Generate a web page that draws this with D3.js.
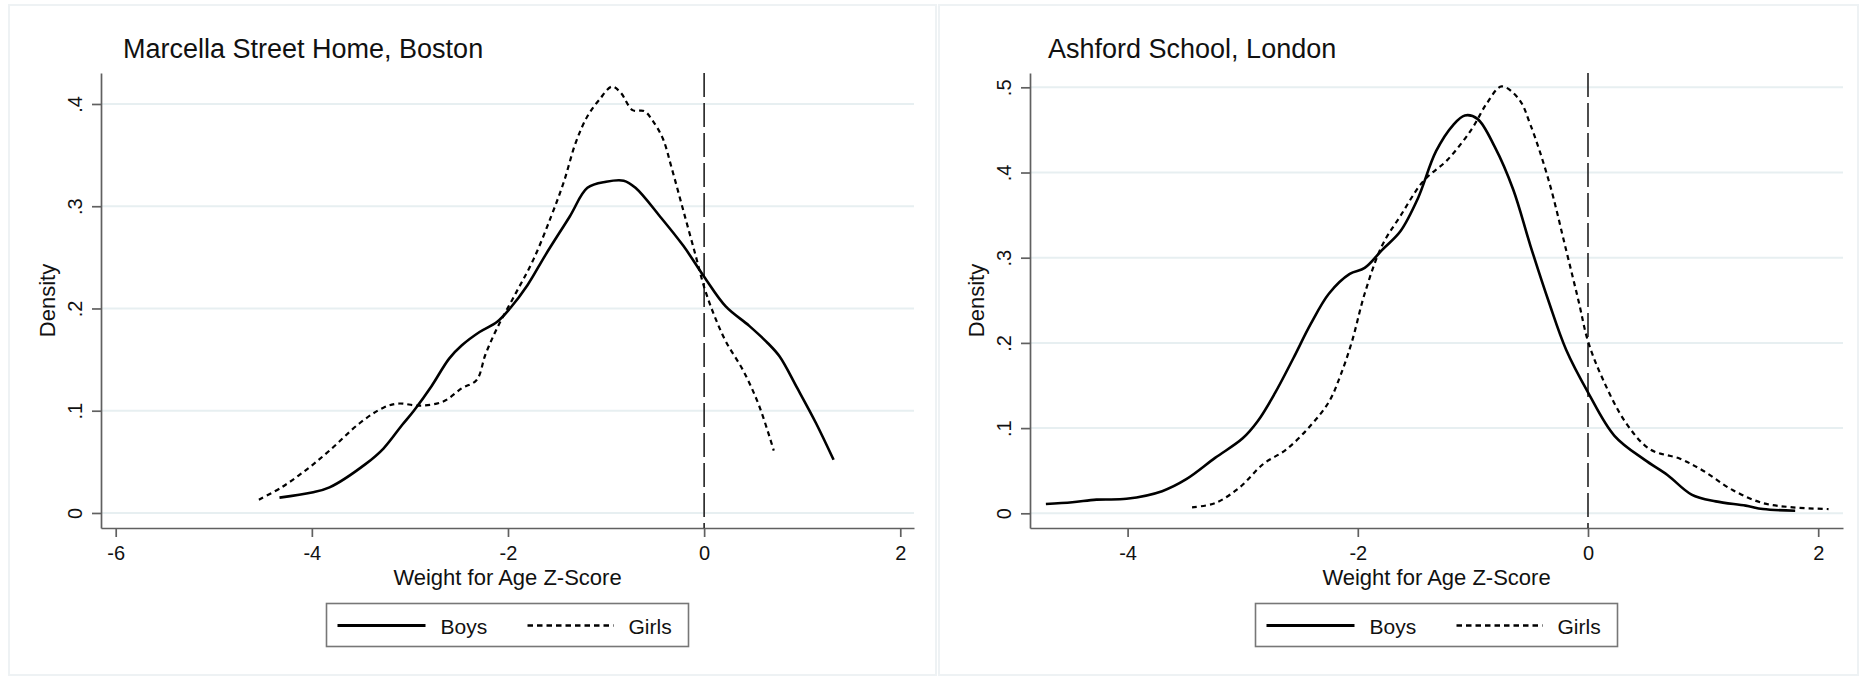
<!DOCTYPE html>
<html>
<head>
<meta charset="utf-8">
<script src="https://cdn.jsdelivr.net/npm/d3@7"></script>
<style>
  html, body { margin: 0; padding: 0; background: #fff; }
  text { font-family: "Liberation Sans", Arial, Helvetica, sans-serif; fill: #111; }
</style>
</head>
<body>
<div id="chart"></div>
<script>
// ---------- data (z-score, density) ----------
const marcellaBoys = [[-4.33,0.015],[-4.0,0.020],[-3.82,0.025],[-3.45,0.048],[-3.27,0.063],[-3.08,0.086],[-2.96,0.100],[-2.78,0.124],[-2.60,0.151],[-2.47,0.164],[-2.29,0.177],[-2.11,0.187],[-1.98,0.200],[-1.80,0.223],[-1.62,0.252],[-1.37,0.290],[-1.19,0.318],[-1.0,0.324],[-0.82,0.325],[-0.70,0.318],[-0.45,0.290],[-0.21,0.261],[0,0.231],[0.22,0.202],[0.46,0.183],[0.65,0.166],[0.77,0.153],[0.95,0.122],[1.14,0.088],[1.32,0.052]];
const marcellaGirls = [[-4.54,0.013],[-4.31,0.025],[-4.06,0.042],[-3.82,0.061],[-3.51,0.088],[-3.27,0.103],[-3.12,0.107],[-2.90,0.105],[-2.66,0.109],[-2.47,0.122],[-2.32,0.130],[-2.23,0.155],[-2.11,0.181],[-1.92,0.215],[-1.74,0.248],[-1.56,0.290],[-1.43,0.324],[-1.31,0.362],[-1.19,0.388],[-1.07,0.404],[-0.94,0.417],[-0.85,0.411],[-0.73,0.394],[-0.61,0.393],[-0.52,0.383],[-0.42,0.366],[-0.33,0.337],[-0.21,0.295],[-0.09,0.253],[0,0.221],[0.10,0.194],[0.22,0.168],[0.40,0.139],[0.56,0.105],[0.71,0.061]];
const ashfordBoys = [[-4.71,0.011],[-4.48,0.013],[-4.27,0.016],[-4.01,0.017],[-3.70,0.026],[-3.49,0.040],[-3.24,0.065],[-3.00,0.088],[-2.87,0.108],[-2.72,0.141],[-2.56,0.182],[-2.41,0.222],[-2.25,0.258],[-2.07,0.281],[-1.94,0.288],[-1.79,0.309],[-1.63,0.331],[-1.48,0.369],[-1.32,0.425],[-1.17,0.456],[-1.07,0.467],[-0.96,0.463],[-0.81,0.430],[-0.65,0.380],[-0.50,0.314],[-0.34,0.248],[-0.19,0.192],[0,0.142],[0.23,0.091],[0.49,0.063],[0.69,0.045],[0.90,0.022],[1.11,0.014],[1.37,0.009],[1.52,0.005],[1.80,0.003]];
const ashfordGirls = [[-3.44,0.007],[-3.24,0.012],[-3.03,0.030],[-2.82,0.058],[-2.62,0.075],[-2.41,0.103],[-2.25,0.131],[-2.15,0.162],[-2.05,0.202],[-1.94,0.258],[-1.79,0.314],[-1.63,0.349],[-1.43,0.390],[-1.22,0.415],[-1.01,0.451],[-0.88,0.481],[-0.75,0.501],[-0.60,0.486],[-0.50,0.456],[-0.34,0.390],[-0.19,0.309],[-0.08,0.248],[0,0.202],[0.13,0.157],[0.33,0.106],[0.54,0.075],[0.80,0.064],[1.0,0.050],[1.26,0.027],[1.52,0.012],[1.78,0.007],[2.09,0.005]];

const panelTitles = ['Marcella Street Home, Boston', 'Ashford School, London'];
const leftXTicks = [-6, -4, -2, 0, 2];
const rightXTicks = [-4, -2, 0, 2];
const leftYTicks = [0, 0.1, 0.2, 0.3, 0.4];
const rightYTicks = [0, 0.1, 0.2, 0.3, 0.4, 0.5];
const seriesNames = ['Boys', 'Girls'];
const xTitle = 'Weight for Age Z-Score';
const yTitle = 'Density';

const W = 1863, H = 677;
const svg = d3.select('#chart').append('svg')
  .attr('width', W).attr('height', H);

// stata style tick labels: ".1" instead of "0.1"
const yFmt = d => d === 0 ? '0' : String(+d.toFixed(2)).replace(/^0/, '');

const drawPanel = (cfg) => {
  const g = svg.append('g');
  const p = cfg.plot;

  // panel frame (very faint)
  g.append('rect')
    .attr('x', cfg.frame[0]).attr('y', cfg.frame[1])
    .attr('width', cfg.frame[2] - cfg.frame[0]).attr('height', cfg.frame[3] - cfg.frame[1])
    .attr('fill', '#fff').attr('stroke', '#eef2f4').attr('stroke-width', 2);

  const x = d3.scaleLinear().domain(cfg.xDomain).range([p.left, p.right]);
  const y = d3.scaleLinear().domain(cfg.yDomain).range([p.bottom, p.top]);

  // grid lines
  g.append('g').selectAll('line')
    .data(cfg.yTicks)
    .join('line')
    .attr('x1', p.left).attr('x2', p.right)
    .attr('y1', d => y(d)).attr('y2', d => y(d))
    .attr('stroke', '#e7eff1').attr('stroke-width', 2);

  // y axis
  const yAxis = g.append('g')
    .attr('transform', `translate(${p.left},0)`)
    .call(d3.axisLeft(y).tickValues(cfg.yTicks).tickFormat(yFmt).tickSize(9).tickSizeOuter(0));
  yAxis.selectAll('text')
    .attr('x', 0).attr('y', -19).attr('dy', 0)
    .attr('transform', 'rotate(-90)')
    .attr('text-anchor', 'middle')
    .attr('font-size', 20);

  // x axis
  const xAxis = g.append('g')
    .attr('transform', `translate(0,${p.bottom})`)
    .call(d3.axisBottom(x).tickValues(cfg.xTicks).tickFormat(d => String(d)).tickSize(9).tickPadding(9).tickSizeOuter(0));
  xAxis.selectAll('text').attr('font-size', 20);

  [yAxis, xAxis].forEach(a => {
    a.selectAll('path, line').attr('stroke', '#606060').attr('stroke-width', 1.7);
    a.selectAll('text').style('fill', '#111').attr('font-family', null);
  });

  // titles
  g.append('text')
    .attr('x', p.left + cfg.titleDx).attr('y', 58)
    .attr('font-size', 27)
    .text(cfg.title);
  g.append('text')
    .attr('x', (p.left + p.right) / 2).attr('y', 585)
    .attr('text-anchor', 'middle')
    .attr('font-size', 22)
    .text(xTitle);
  g.append('text')
    .attr('transform', `translate(${p.left - 46},${(p.top + p.bottom) / 2}) rotate(-90)`)
    .attr('text-anchor', 'middle')
    .attr('font-size', 22)
    .text(yTitle);

  // reference line at z = 0
  g.append('line')
    .attr('x1', x(0)).attr('x2', x(0))
    .attr('y1', p.top).attr('y2', p.bottom)
    .attr('stroke', '#222').attr('stroke-width', 1.6)
    .attr('stroke-dasharray', '24,6');

  // density curves
  const line = d3.line()
    .x(d => x(d[0])).y(d => y(d[1]))
    .curve(d3.curveCatmullRom.alpha(0.5));
  g.append('path')
    .datum(cfg.boys)
    .attr('d', line)
    .attr('fill', 'none').attr('stroke', '#000').attr('stroke-width', 2.6)
    .attr('stroke-linejoin', 'round');
  g.append('path')
    .datum(cfg.girls)
    .attr('d', line)
    .attr('fill', 'none').attr('stroke', '#000').attr('stroke-width', 2.2)
    .attr('stroke-dasharray', '5,4');

  // legend
  const lw = 362, lh = 43;
  const lx = (p.left + p.right) / 2 - lw / 2, ly = 603.5;
  const lg = g.append('g').attr('transform', `translate(${lx},${ly})`);
  lg.append('rect')
    .attr('width', lw).attr('height', lh)
    .attr('fill', '#fff').attr('stroke', '#777').attr('stroke-width', 1.6);
  lg.append('line')
    .attr('x1', 11).attr('x2', 99).attr('y1', 22).attr('y2', 22)
    .attr('stroke', '#000').attr('stroke-width', 3);
  lg.append('line')
    .attr('x1', 201).attr('x2', 287).attr('y1', 22).attr('y2', 22)
    .attr('stroke', '#000').attr('stroke-width', 2.4)
    .attr('stroke-dasharray', '5.5,4');
  lg.append('text').attr('x', 114).attr('y', 30).attr('font-size', 21).text(seriesNames[0]);
  lg.append('text').attr('x', 302).attr('y', 30).attr('font-size', 21).text(seriesNames[1]);
};

drawPanel({
  frame: [9, 5, 936, 675],
  plot: { left: 101, right: 914, top: 73, bottom: 528 },
  xDomain: [-6.15, 2.14],
  yDomain: [-0.0147, 0.4303],
  xTicks: leftXTicks,
  yTicks: leftYTicks,
  title: panelTitles[0],
  titleDx: 22,
  boys: marcellaBoys,
  girls: marcellaGirls
});

drawPanel({
  frame: [939, 5, 1858, 675],
  plot: { left: 1030, right: 1843, top: 73, bottom: 528 },
  xDomain: [-4.848, 2.2155],
  yDomain: [-0.01725, 0.5168],
  xTicks: rightXTicks,
  yTicks: rightYTicks,
  title: panelTitles[1],
  titleDx: 18,
  boys: ashfordBoys,
  girls: ashfordGirls
});
</script>
</body>
</html>
